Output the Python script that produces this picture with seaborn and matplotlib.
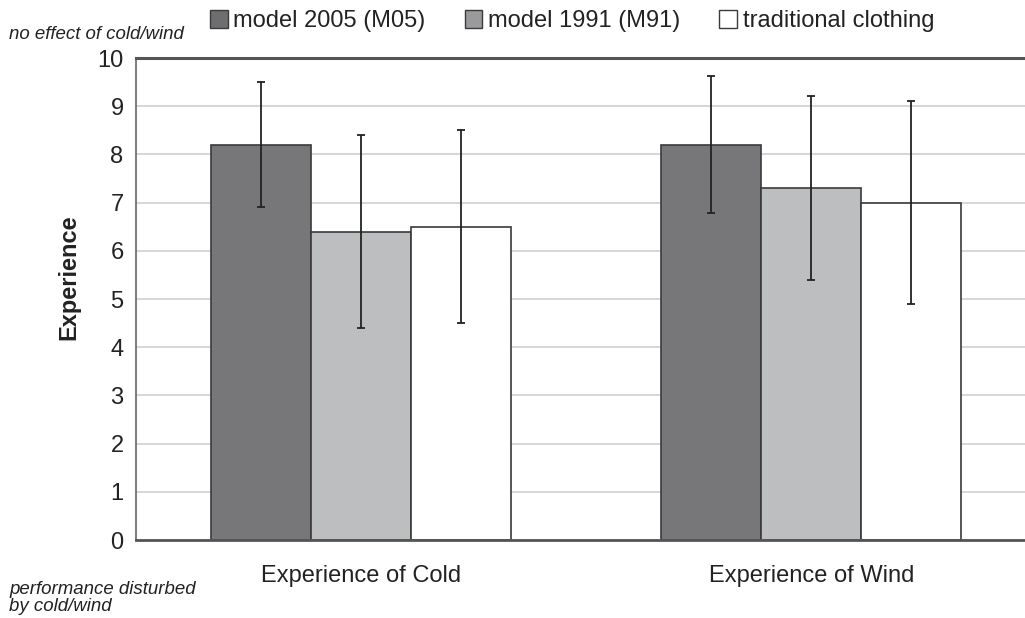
import matplotlib
matplotlib.use("Agg")
import matplotlib.pyplot as plt
import matplotlib.patches as mpatches
import seaborn as sns
import pandas as pd

categories = ["Experience of Cold", "Experience of Wind"]
series = ["model 2005 (M05)", "model 1991 (M91)", "traditional clothing"]
means_m05 = [8.2, 8.2]
means_m91 = [6.4, 7.3]
means_trad = [6.5, 7.0]
err_m05 = [1.3, 1.42]
err_m91 = [2.0, 1.91]
err_trad = [2.0, 2.1]
yticks = list(range(0, 11))

bar_colors = ["#76777b", "#bdbec0", "#ffffff"]
legend_colors = ["#6e6e70", "#9a9a9c", "#ffffff"]
edge = "#3a3a3a"

rows = []
for s, m, e in zip(series, [means_m05, means_m91, means_trad], [err_m05, err_m91, err_trad]):
    for c, v, ev in zip(categories, m, e):
        rows.append({"category": c, "series": s, "value": v, "err": ev})
df = pd.DataFrame(rows)

sns.set_style("white")
plt.rcParams["font.family"] = ["Liberation Sans", "DejaVu Sans"]

fig = plt.figure(figsize=(10.25, 6.18), dpi=100)
ax = fig.add_axes([0.1327, 0.1262, 0.8673, 0.7799])

sns.barplot(data=df, x="category", y="value", hue="series", hue_order=series,
            palette=bar_colors, errorbar=None, width=0.667, edgecolor=edge,
            linewidth=1.2, legend=False, ax=ax, zorder=2)

# error bars at the bar centres seaborn placed
for container, s in zip(ax.containers, series):
    sub = df[df["series"] == s].set_index("category").loc[categories]
    xs = [p.get_x() + p.get_width() / 2 for p in container.patches]
    ax.errorbar(xs, sub["value"], yerr=sub["err"], fmt="none", ecolor="#222222",
                elinewidth=1.3, capsize=3, capthick=1.3, zorder=3)

ax.set_ylim(0, 10)
ax.set_xlim(-0.5, 1.475)
ax.set_yticks(yticks)
ax.yaxis.grid(True, color="#cfcfcf", linewidth=1.2, zorder=0)
ax.set_axisbelow(True)
ax.tick_params(axis="y", length=0, pad=9, labelsize=17, colors="#222222")
ax.tick_params(axis="x", length=0, pad=18, labelsize=17, colors="#222222")
ax.set_xlabel("")
ax.set_ylabel("Experience", fontsize=17, fontweight="bold", color="#222222")
ax.yaxis.set_label_coords(-0.063, 0.545)

ax.spines["left"].set_color("#666666")
ax.spines["left"].set_linewidth(1.2)
ax.spines["top"].set_color("#555555")
ax.spines["top"].set_linewidth(2.2)
ax.spines["bottom"].set_color("#555555")
ax.spines["bottom"].set_linewidth(2.0)
ax.spines["right"].set_visible(False)

handles = [mpatches.Patch(facecolor=c, edgecolor=edge, linewidth=1.0, label=s)
           for c, s in zip(legend_colors, series)]
fig.legend(handles=handles, loc="upper left", bbox_to_anchor=(0.184, 1.018), ncol=3,
           frameon=False, fontsize=17, handlelength=0.75, handleheight=0.75,
           handletextpad=0.25, columnspacing=1.65, labelcolor="#222222")

fig.text(0.009, 0.944, "no effect of cold/wind", fontsize=13.4, style="italic",
         color="#222222", va="center")
fig.text(0.009, 0.032, "performance disturbed\nby cold/wind", fontsize=13.4,
         style="italic", color="#222222", va="center", linespacing=0.98)

fig.savefig("out.png", dpi=100)
